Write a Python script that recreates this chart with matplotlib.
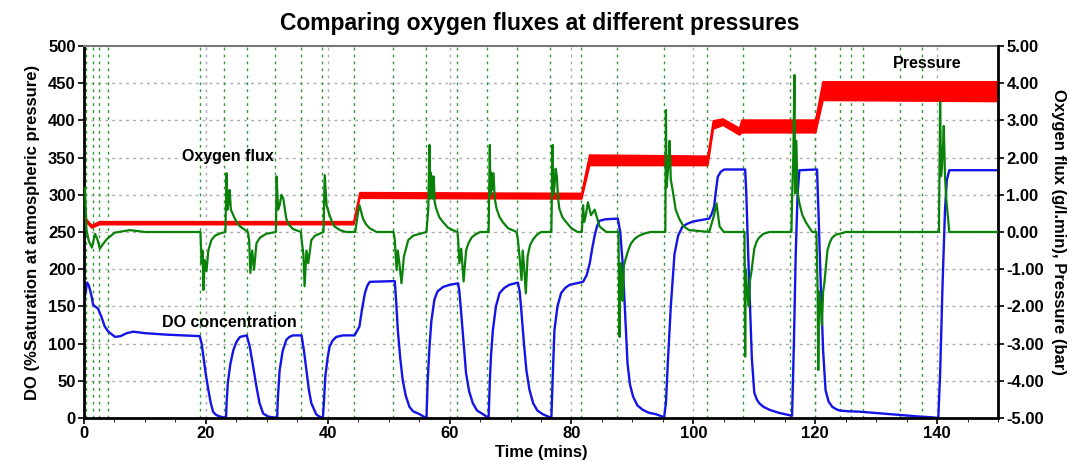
import matplotlib
matplotlib.use("Agg")
import matplotlib.pyplot as plt
from matplotlib.ticker import MultipleLocator, FormatStrFormatter

plt.rcParams['font.family'] = ['Liberation Sans', 'DejaVu Sans']
plt.rcParams['font.weight'] = 'bold'

# DO concentration (% saturation), left axis
do_t = [0.15, 0.5, 0.8, 1.2, 1.5, 2.3, 2.9, 3.4, 3.9, 4.3, 5.1, 6.0, 7.0, 8.1, 10.0, 13.6, 19.0,
        19.3, 19.6, 20.0, 20.4, 20.8, 21.2, 21.7, 22.3, 23.3,
        23.4, 23.6, 24.0, 24.5, 25.0, 25.6, 26.7,
        27.2, 27.7, 28.3, 28.8, 29.4, 30.2, 31.0, 31.7,
        31.8, 32.1, 32.6, 33.2, 33.7, 34.3, 35.7,
        36.1, 36.5, 36.9, 37.3, 38.1, 38.6, 39.2,
        39.4, 39.6, 40.0, 40.3, 40.8, 41.4, 42.5, 44.4, 45.2, 45.6, 46.1, 46.5, 46.9, 51.0,
        51.2, 51.5, 51.9, 52.3, 52.8, 53.4, 54.0, 55.1, 55.7, 56.2,
        56.4, 56.7, 57.0, 57.5, 58.0, 58.9, 60.0, 61.4,
        61.6, 61.9, 62.3, 62.7, 63.2, 63.8, 64.5, 65.5, 66.4,
        66.6, 66.8, 67.1, 67.6, 68.2, 69.0, 69.8, 71.2,
        71.5, 71.8, 72.2, 72.6, 73.1, 73.7, 74.4, 75.3, 76.7,
        76.9, 77.2, 77.7, 78.3, 79.0, 79.7, 81.9, 82.5, 83.0, 83.4, 83.8, 84.2, 84.6, 85.5, 87.6,
        88.0, 88.4, 88.8, 89.2, 89.6, 90.1, 90.8, 91.7, 92.7, 93.9, 95.2,
        95.5, 95.8, 96.3, 96.9, 97.5, 98.2, 99.0, 99.9, 102.6, 103.0, 103.4, 103.7, 104.0,
        104.5, 105.1, 108.5,
        108.7, 109.0, 109.3, 109.6, 110.0, 110.4, 110.8, 111.5, 112.5, 114.0, 115.7, 116.2,
        116.5, 116.8, 117.1, 117.4, 120.3,
        120.6, 120.9, 121.3, 121.7, 122.2, 122.8, 123.4, 124.0, 125.5, 127.2, 128.0,
        131.0, 134.0, 137.0, 139.0, 140.2,
        140.5, 140.9, 141.3, 141.6, 142.0, 150.0]
do_v = [163, 182, 178, 165, 152, 147, 135, 123, 117, 114, 109, 110, 114, 116, 114, 112, 110,
        100, 82, 58, 38, 20, 8, 4, 2, 0,
        20, 47, 72, 91, 102, 109, 111,
        96, 72, 42, 20, 6, 2, 1, 0,
        25, 64, 90, 105, 109, 111, 111,
        90, 64, 38, 20, 5, 2, 0,
        25, 56, 82, 96, 104, 109, 111, 111, 123, 145, 168, 178, 183, 184,
        160, 118, 80, 51, 30, 15, 9, 5, 2, 0,
        50, 96, 130, 159, 170, 176, 179, 181,
        170, 141, 100, 60, 36, 20, 10, 5, 0,
        50, 85, 118, 150, 168, 175, 179, 182,
        170, 141, 100, 64, 38, 20, 10, 5, 0,
        50, 118, 150, 168, 175, 179, 183, 192, 208, 228, 245, 258, 265, 267, 268,
        250, 208, 140, 73, 45, 29, 17, 11, 7, 5, 1,
        20, 73, 150, 220, 245, 257, 261, 264, 268, 274, 284, 305, 324,
        331, 334, 334,
        300, 220, 150, 80, 34, 25, 20, 15, 11, 7, 4, 3,
        100, 220, 300, 333, 334,
        260, 180, 90, 37, 22, 15, 12, 10, 9, 8.5, 8,
        6, 4, 2, 1, 0,
        60, 180, 280, 320, 333, 333]

# oxygen flux (g/l.min), right axis
flux_t = [0.15, 0.4, 0.8, 1.3, 1.8, 2.2, 2.6, 3.0, 3.7, 5.0, 7.5, 10.0, 19.1,
          19.3, 19.45, 19.6, 19.8, 20.1, 20.4, 20.9, 21.5, 22.3, 23.2,
          23.3, 23.4, 23.55, 23.7, 23.9, 24.1, 24.5, 25.0, 25.6, 26.9,
          27.1, 27.3, 27.6, 27.9, 28.3, 28.9, 29.9, 31.5,
          31.6, 31.85, 32.1, 32.4, 32.7, 33.2, 33.7, 34.3, 35.6,
          35.7, 36.0, 36.2, 36.5, 36.8, 37.3, 37.9, 38.9, 39.3,
          39.5, 39.8, 40.3, 40.7, 41.1, 42.0, 43.0, 44.5, 45.0, 45.2, 45.8, 46.3, 46.9, 48.0, 50.8,
          51.0, 51.3, 51.5, 51.8, 52.1, 52.5, 53.2, 54.0, 55.1, 56.2,
          56.5, 56.6, 56.7, 56.8, 56.9, 57.0, 57.1, 57.25, 57.4, 57.55, 57.8, 58.3, 58.9, 59.7, 60.5, 61.3,
          61.4, 61.6, 61.9, 62.1, 62.3, 62.7, 63.1, 63.6, 64.2, 65.0, 66.4,
          66.5, 66.6, 66.7, 66.8, 66.95, 67.2, 67.4, 67.7, 68.2, 68.7, 69.6, 71.0,
          71.2, 71.5, 71.8, 72.0, 72.3, 72.5, 72.8, 73.2, 73.7, 74.3, 75.0, 76.7,
          76.8, 76.9, 77.0, 77.2, 77.4, 77.6, 77.8, 78.0, 78.5, 79.1, 80.0, 81.0, 81.7,
          81.9, 82.1, 82.4, 82.7, 83.2, 83.8, 84.6, 85.7, 87.7,
          87.9, 88.0, 88.1, 88.25, 88.4, 88.6, 89.0, 89.4, 89.8, 90.4, 91.1, 92.0, 93.0, 95.4,
          95.5, 95.6, 95.8, 96.0, 96.1, 96.3, 96.6, 97.1, 97.7, 98.4, 99.3, 102.6,
          103.4, 103.8, 104.3, 105.0, 108.4,
          108.5, 108.6, 108.7, 108.9, 109.1, 109.3, 109.5, 110.0, 110.4, 110.8, 111.5, 112.5, 116.1,
          116.2, 116.4, 116.6, 116.7, 116.8, 116.9, 117.1, 117.4, 117.9, 118.5, 119.5, 120.2,
          120.4, 120.5, 120.65, 120.8, 121.0, 121.1, 121.3, 121.5, 122.0, 122.4, 122.8, 123.4,
          124.2, 125.0, 140.3,
          140.5, 140.65, 140.8, 141.0, 141.1, 141.3, 141.5, 142.0, 150.0]
flux_v = [1.18, 0.05, -0.25, -0.42, -0.05, -0.2, -0.45, -0.35, -0.2, -0.02, 0.05, 0.0, 0.0,
          -0.84, -0.5, -1.56, -0.75, -1.05, -0.5, -0.22, -0.1, -0.04, 0.0,
          0.8, 1.58, 0.6, 0.77, 1.13, 0.6, 0.45, 0.28, 0.15, 0.0,
          -0.22, -1.1, -0.5, -1.02, -0.3, -0.15, -0.05, 0.0,
          1.49, 0.6, 0.72, 1.0, 0.9, 0.35, 0.18, 0.08, 0.0,
          -0.2, -0.6, -1.46, -0.5, -0.84, -0.22, -0.1, -0.03, 0.0,
          1.53, 0.72, 0.45, 0.27, 0.15, 0.05, 0.0, 0.0, 0.55, 0.72, 0.35, 0.2, 0.1, 0.0, 0.0,
          -0.22, -1.02, -0.5, -0.9, -1.38, -0.66, -0.22, -0.1, -0.05, 0.0,
          0.63, 1.5, 2.34, 0.9, 1.6, 1.0, 1.5, 0.9, 1.49, 0.8, 0.63, 0.4, 0.27, 0.12, 0.05, 0.0,
          -0.2, -0.84, -0.45, -0.9, -1.33, -0.5, -0.3, -0.15, -0.07, 0.0, 0.0,
          1.2, 2.34, 1.0, 1.6, 1.13, 1.58, 0.9, 0.63, 0.4, 0.27, 0.1, 0.0,
          -0.2, -0.7, -1.29, -0.5, -1.1, -1.65, -0.66, -0.35, -0.2, -0.08, 0.0, 0.0,
          1.2, 2.34, 1.0, 1.22, 1.7, 1.49, 0.9, 0.63, 0.4, 0.27, 0.1, 0.0, 0.0,
          0.72, 0.27, 0.5, 0.8, 0.45, 0.6, 0.15, 0.0, 0.0,
          -2.82, -1.2, -0.84, -1.5, -1.85, -0.9, -0.66, -0.45, -0.3, -0.18, -0.1, -0.04, 0.0, 0.0,
          3.28, 1.2, 1.58, 2.0, 2.45, 1.4, 1.13, 0.6, 0.35, 0.15, 0.05, 0.0,
          0.45, 0.77, 0.15, 0.0, 0.0,
          -3.35, -1.0, -1.29, -1.7, -2.0, -1.3, -1.1, -0.45, -0.25, -0.15, -0.05, 0.0, 0.0,
          0.9, 2.0, 4.22, 1.04, 1.8, 2.45, 1.1, 0.77, 0.45, 0.25, 0.0, 0.0,
          -1.63, -3.71, -1.6, -1.85, -2.2, -2.5, -1.6, -1.38, -0.5, -0.28, -0.15, -0.07,
          -0.04, 0.0, 0.0,
          3.5, 1.5, 1.76, 2.4, 2.85, 1.5, 0.9, 0.0, 0.0]

# pressure (bar), right axis - noisy band read as low / high edges
press_t = [0.15, 0.4, 1.2, 2.5, 44.2, 45.2, 81.6, 82.9, 102.3, 103.2, 104.8,
           107.5, 107.9, 120.0, 121.2, 150.0]
press_lo = [0.33, 0.26, 0.12, 0.21, 0.21, 0.92, 0.90, 1.80, 1.80, 2.78, 2.88,
            2.62, 2.68, 2.68, 3.55, 3.52]
press_hi = [0.42, 0.34, 0.19, 0.29, 0.29, 1.07, 1.05, 2.08, 2.05, 3.00, 3.05,
            2.80, 3.02, 3.02, 4.05, 4.05]

# event markers (green dotted verticals)
events = [0.3, 1.4, 2.5, 4.0, 19.0, 23.0, 26.8, 31.3, 35.6, 39.1, 44.3, 50.7,
          56.2, 61.2, 66.1, 71.0, 76.5, 81.6, 87.4, 95.2, 102.3, 108.1, 115.9,
          119.9, 124.0, 125.9, 127.9, 133.9, 137.6]

fig = plt.figure(figsize=(10.69, 4.61), dpi=100)
ax = fig.add_axes([0.0786, 0.0933, 0.855, 0.807])
ax2 = ax.twinx()

ax.set_xlim(0, 150)
ax.set_ylim(0, 500)
ax2.set_ylim(-5, 5)

# grid
for y in range(50, 500, 50):
    ax.axhline(y, color='#aaaaaa', ls=(0, (2, 3)), lw=1, zorder=0)
for x in range(20, 150, 20):
    ax.axvline(x, color='#aaaaaa', ls=(0, (2, 3)), lw=1, zorder=0)
for x in events:
    ax.axvline(x, color='#2e9a2e', ls=(0, (2, 3)), lw=1, zorder=0.5)

ax.plot(do_t, do_v, color='#1414e6', lw=1.7, zorder=2)

ax2.fill_between(press_t, press_lo, press_hi, color='red', lw=1.2,
                 edgecolor='red', zorder=2)
ax2.plot(flux_t, flux_v, color='#0a820a', lw=1.6, zorder=3)

ax.xaxis.set_major_locator(MultipleLocator(20))
ax.xaxis.set_minor_locator(MultipleLocator(5))
ax.yaxis.set_major_locator(MultipleLocator(50))
ax2.yaxis.set_major_locator(MultipleLocator(1))
ax2.yaxis.set_major_formatter(FormatStrFormatter('%.2f'))

for a in (ax, ax2):
    a.tick_params(labelsize=12, width=1.2, length=4, pad=2)
ax.tick_params(axis='x', which='minor', length=3)

for s in ('left', 'bottom'):
    ax.spines[s].set_linewidth(2)
ax.spines['top'].set_color('#777777')
ax.spines['top'].set_linewidth(1.5)
ax2.spines['top'].set_visible(False)
ax2.spines['right'].set_linewidth(2)
ax2.spines['left'].set_visible(False)
ax2.spines['bottom'].set_visible(False)

ax.set_xlabel('Time (mins)', fontsize=12, fontweight='bold', labelpad=3)
ax.set_ylabel('DO (%Saturation at atmospheric pressure)', fontsize=12,
              fontweight='bold', labelpad=6)
ax2.set_ylabel('Oxygen flux (g/l.min), Pressure (bar)', fontsize=12,
               fontweight='bold', rotation=270, labelpad=16)
fig.suptitle('Comparing oxygen fluxes at different pressures', fontsize=16.5,
             fontweight='bold', x=0.505, y=0.975)

ax.text(23.6, 351, 'Oxygen flux', fontsize=11.5, fontweight='bold',
        ha='center', va='center', zorder=5)
ax.text(23.9, 128, 'DO concentration', fontsize=11.5, fontweight='bold',
        ha='center', va='center', zorder=5)
ax.text(138.4, 477, 'Pressure', fontsize=11.5, fontweight='bold',
        ha='center', va='center', zorder=5)

fig.savefig('out.png', dpi=100)
